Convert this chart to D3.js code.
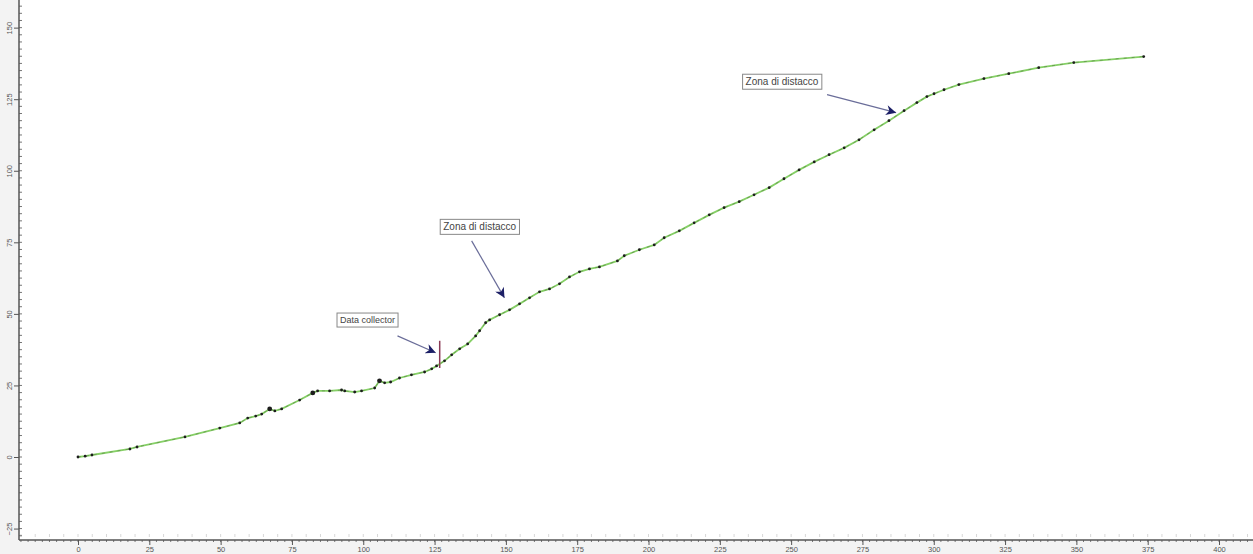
<!DOCTYPE html>
<html>
<head>
<meta charset="utf-8">
<script src="https://cdn.jsdelivr.net/npm/d3@7"></script>
<style>
  html, body { margin: 0; padding: 0; background: #f3f3f3; }
  svg { display: block; font-family: "Liberation Sans", Arial, sans-serif; }
</style>
</head>
<body>
<svg id="chart" width="1253" height="554"></svg>
<script>
// Longitudinal profile: progressive distance (m) vs. relative height (m)
const distance = [0, 2.5, 4.9, 18.2, 20.7, 37.5, 49.7, 56.7, 59.5, 62.3, 64.4, 67.2, 69.0, 71.4,
  77.7, 82.3, 84.0, 88.2, 92.4, 93.5, 97.0, 99.4, 104.0, 105.7, 107.5, 109.6, 112.7, 116.9,
  121.5, 124.0, 125.7, 128.5, 131.0, 133.8, 136.6, 139.4, 140.8, 142.9, 144.3, 147.8, 151.3,
  154.8, 158.3, 161.8, 165.3, 168.8, 172.3, 175.8, 179.3, 182.8, 189.1, 191.5, 196.8, 202.0,
  205.5, 210.8, 216.0, 221.3, 226.5, 231.8, 237.0, 242.3, 247.5, 252.8, 258.1, 263.3, 268.6,
  273.8, 279.1, 284.3, 289.6, 294.1, 297.6, 300.1, 303.6, 308.8, 317.6, 326.3, 336.8, 349.1, 373.6];
const height = [0, 0.3, 0.7, 2.8, 3.5, 7.0, 10.1, 11.9, 13.6, 14.3, 15.0, 16.8, 16.1, 16.8,
  19.9, 22.4, 23.1, 23.1, 23.4, 23.1, 22.7, 23.1, 24.1, 26.6, 25.9, 26.2, 27.6, 28.7,
  29.7, 30.8, 31.8, 33.6, 35.7, 37.8, 39.5, 42.3, 44.1, 46.9, 47.9, 49.7, 51.4,
  53.5, 55.6, 57.7, 58.7, 60.5, 62.9, 64.7, 65.7, 66.4, 68.5, 70.3, 72.4, 74.1,
  76.6, 79.0, 81.8, 84.6, 87.1, 89.2, 91.6, 94.1, 97.2, 100.3, 103.1, 105.6, 108.0,
  110.8, 114.3, 117.5, 121.0, 123.8, 125.9, 126.9, 128.3, 130.1, 132.2, 133.9, 136.0, 137.8, 139.9];

const xTicks = [0, 25, 50, 75, 100, 125, 150, 175, 200, 225, 250, 275, 300, 325, 350, 375, 400];
const yTicks = [-25, 0, 25, 50, 75, 100, 125, 150];

// Callouts: text, label centre, arrow start, arrow tip (data units)
const calloutText = ["Data collector", "Zona di distacco", "Zona di distacco"];
const calloutLabel = [[101.5, 47.9], [140.8, 80.4], [246.8, 131.1]];
const calloutFrom = [[112.0, 42.3], [138.0, 75.5], [262.6, 126.6]];
const calloutTo = [[125.4, 36.4], [149.5, 55.6], [286.8, 120.3]];
const calloutSize = [9, 10, 10];

// Data collector station marker
const stationX = 126.8;
const stationY = [31.1, 40.6];

const W = 1253, H = 554;
const left = 19, bottom = 540;

const svg = d3.select("#chart");

const x = d3.scaleLinear().domain([0, 400]).range([78, 78 + 400 * 2.8525]);
const y = d3.scaleLinear().domain([0, 150]).range([457, 457 - 150 * 2.8625]);

// plot area
svg.append("rect").attr("x", left).attr("y", 0)
  .attr("width", W - left).attr("height", bottom).attr("fill", "#ffffff");

// minor ticks
svg.append("g").selectAll("line").data(d3.range(-20, 411, 5)).join("line")
  .attr("x1", d => x(d)).attr("x2", d => x(d))
  .attr("y1", bottom - 6).attr("y2", bottom - 3)
  .attr("stroke", "#d8d8d8").attr("stroke-width", 1);

svg.append("g").selectAll("line").data(d3.range(-20, 411, 2.5)).join("line")
  .attr("x1", d => x(d)).attr("x2", d => x(d))
  .attr("y1", bottom).attr("y2", bottom + 2)
  .attr("stroke", "#777").attr("stroke-width", 1);

svg.append("g").selectAll("line").data(d3.range(-27.5, 160, 2.5)).join("line")
  .attr("x1", left).attr("x2", left + 3)
  .attr("y1", d => y(d)).attr("y2", d => y(d))
  .attr("stroke", "#777").attr("stroke-width", 1);

// axes
const xAxis = d3.axisBottom(x).tickValues(xTicks).tickSize(5).tickPadding(2);
const gx = svg.append("g").attr("transform", `translate(0,${bottom})`).call(xAxis);
gx.select(".domain").remove();
gx.selectAll(".tick line").attr("stroke", "#555");
gx.selectAll(".tick text").attr("fill", "#555").attr("font-size", 7.5)
  .attr("font-family", "Liberation Sans, Arial, sans-serif");

const yAxis = d3.axisLeft(y).tickValues(yTicks).tickSize(5).tickPadding(2);
const gy = svg.append("g").attr("transform", `translate(${left},0)`).call(yAxis);
gy.select(".domain").remove();
gy.selectAll(".tick line").attr("stroke", "#555");
gy.selectAll(".tick text").attr("fill", "#555").attr("font-size", 7.5)
  .attr("font-family", "Liberation Sans, Arial, sans-serif")
  .attr("text-anchor", "middle").attr("dy", 0)
  .attr("transform", "translate(-9,0) rotate(-90)").attr("x", 0).attr("y", 2);

svg.append("line").attr("x1", left).attr("x2", left).attr("y1", 0).attr("y2", bottom)
  .attr("stroke", "#555").attr("stroke-width", 1.5);
svg.append("line").attr("x1", left).attr("x2", W).attr("y1", bottom).attr("y2", bottom)
  .attr("stroke", "#555").attr("stroke-width", 1.5);

// profile line
const pts = distance.map((d, i) => [d, height[i]]);
const line = d3.line().x(d => x(d[0])).y(d => y(d[1]));
svg.append("path").datum(pts).attr("d", line)
  .attr("fill", "none").attr("stroke", "#86d066").attr("stroke-width", 1.8);
svg.append("path").datum(pts).attr("d", line)
  .attr("fill", "none").attr("stroke", "#33462c").attr("stroke-width", 0.5)
  .attr("stroke-dasharray", "3,5").attr("opacity", 0.7);

// survey points
svg.append("g").selectAll("circle").data(pts).join("circle")
  .attr("cx", d => x(d[0])).attr("cy", d => y(d[1]))
  .attr("r", (d, i) => (i === 11 || i === 23 || i === 15) ? 2.4 : 1.4)
  .attr("fill", "#1d1d1d");

// data collector station
svg.append("line")
  .attr("x1", x(stationX)).attr("x2", x(stationX))
  .attr("y1", y(stationY[0])).attr("y2", y(stationY[1]))
  .attr("stroke", "#8a3a55").attr("stroke-width", 1.5);

// arrow marker
svg.append("defs").append("marker")
  .attr("id", "arrowHead").attr("viewBox", "0 0 10 10")
  .attr("refX", 10).attr("refY", 5)
  .attr("markerWidth", 14).attr("markerHeight", 10)
  .attr("markerUnits", "userSpaceOnUse")
  .attr("orient", "auto")
  .append("path").attr("d", "M0,0 L10,5 L0,10 L3,5 Z").attr("fill", "#1c1f66");

// callouts
calloutText.forEach((t, i) => {
  svg.append("line")
    .attr("x1", x(calloutFrom[i][0])).attr("y1", y(calloutFrom[i][1]))
    .attr("x2", x(calloutTo[i][0])).attr("y2", y(calloutTo[i][1]))
    .attr("stroke", "#6a6d99").attr("stroke-width", 1.2)
    .attr("marker-end", "url(#arrowHead)");

  const g = svg.append("g")
    .attr("transform", `translate(${x(calloutLabel[i][0])},${y(calloutLabel[i][1])})`);
  const txt = g.append("text").attr("text-anchor", "middle").attr("dy", "0.35em")
    .attr("font-size", calloutSize[i]).attr("fill", "#444").text(t);
  const bb = txt.node().getBBox();
  g.insert("rect", "text")
    .attr("x", bb.x - 3).attr("y", bb.y - 2)
    .attr("width", bb.width + 6).attr("height", bb.height + 4)
    .attr("fill", "#fff").attr("stroke", "#888").attr("stroke-width", 1);
});
</script>
</body>
</html>
